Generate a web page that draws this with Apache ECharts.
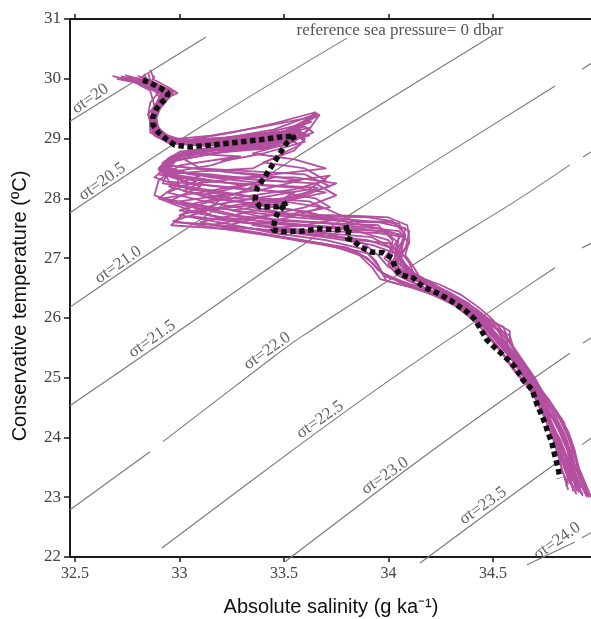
<!DOCTYPE html>
<html>
<head>
<meta charset="utf-8">
<script src="https://cdn.jsdelivr.net/npm/echarts@6/dist/echarts.min.js"></script>
<style>
  html, body { margin: 0; padding: 0; background: #ffffff; }
  #chart { width: 591px; height: 619px; }
</style>
</head>
<body>
<div id="chart"></div>
<script>
// Axis ticks
const salinityTicks = [32.5, 33, 33.5, 34, 34.5];

// Isopycnals (sigma-t), each a list of segments of [S, T] points
const sigma200 = [[[32.476, 29.29], [33.127, 30.70]]];
const sigma205 = [[[32.476, 27.76], [33.098, 29.19], [33.801, 30.68]]];
const sigma210 = [[[32.476, 26.18], [32.859, 27.09], [33.577, 28.73], [34.500, 30.73]]];
const sigma215 = [
  [[32.476, 24.53], [33.017, 25.83], [33.577, 27.19], [33.926, 27.97], [34.797, 29.88]],
  [[34.926, 30.16], [34.975, 30.27]]
];
const sigma220 = [
  [[32.476, 22.79], [32.859, 23.76]],
  [[32.921, 23.93], [33.443, 25.33], [33.577, 25.67], [34.232, 27.14], [34.615, 27.97], [34.868, 28.56]],
  [[34.931, 28.69], [34.975, 28.79]]
];
const sigma225 = [
  [[32.916, 22.15], [33.577, 23.88], [34.055, 25.08], [34.711, 26.64], [34.797, 26.84]],
  [[34.926, 27.17], [34.975, 27.26]]
];
const sigma230 = [
  [[33.505, 21.92], [34.151, 23.63], [34.548, 24.63], [34.868, 25.41]],
  [[34.931, 25.58], [34.975, 25.68]]
];
const sigma235 = [
  [[34.151, 21.90], [34.476, 22.74], [34.806, 23.58]],
  [[34.926, 23.88], [34.975, 24.00]]
];
const sigma240 = [
  [[34.663, 21.87], [34.892, 22.25]],
  [[34.926, 22.32], [34.975, 22.42]]
];

// Contour label anchors: [S, T, text]
const sigmaLabels = [
  [32.596, 29.55, 'σt=20'],
  [32.653, 28.16, 'σt=20.5'],
  [32.730, 26.77, 'σt=21.0'],
  [32.892, 25.53, 'σt=21.5'],
  [33.443, 25.33, 'σt=22.0'],
  [33.696, 24.18, 'σt=22.5'],
  [34.007, 23.24, 'σt=23.0'],
  [34.476, 22.74, 'σt=23.5'],
  [34.830, 22.15, 'σt=24.0']
];

// Individual T-S profiles: [absolute salinity, conservative temperature]
const profile01 = [[32.68,30.05],[32.78,29.95],[32.86,29.80],[32.88,29.55],[32.87,29.30],[32.90,29.05],[32.98,28.93],[33.20,29.00],[33.45,29.15],[33.66,29.42],[33.55,29.10],[33.30,28.85],[33.05,28.78],[32.92,28.60],[32.92,28.40],[33.10,28.20],[32.95,27.95],[33.20,27.75],[33.40,27.60],[33.60,27.55],[33.85,27.50],[34.05,27.40],[34.04,27.05],[34.10,26.75],[34.22,26.50],[34.38,26.15],[34.47,25.85],[34.58,25.40],[34.66,25.00],[34.72,24.60],[34.78,24.20],[34.83,23.80],[34.88,23.40],[34.96,23.00]];
const profile02 = [[32.75,30.00],[32.84,29.92],[32.90,29.78],[32.86,29.60],[32.85,29.40],[32.88,29.15],[32.95,28.98],[33.15,29.05],[33.40,29.20],[33.62,29.35],[33.50,29.05],[33.20,28.85],[32.98,28.70],[32.93,28.50],[33.15,28.35],[33.40,28.25],[33.25,28.05],[33.05,27.90],[33.30,27.70],[33.50,27.62],[33.75,27.58],[33.95,27.55],[34.02,27.30],[34.00,27.00],[34.06,26.80],[34.18,26.58],[34.30,26.30],[34.42,26.00],[34.50,25.70],[34.60,25.30],[34.67,24.90],[34.74,24.50],[34.79,24.10],[34.82,23.70],[34.86,23.30],[34.90,23.05]];
const profile03 = [[32.86,30.15],[32.88,29.98],[32.95,29.85],[32.99,29.76],[32.92,29.65],[32.87,29.45],[32.86,29.20],[32.92,29.02],[33.05,28.95],[33.30,28.98],[33.55,29.08],[33.60,28.95],[33.40,28.75],[33.20,28.62],[33.28,28.70],[33.00,28.55],[32.90,28.30],[32.88,28.05],[33.05,27.85],[32.98,27.60],[33.20,27.55],[33.45,27.45],[33.70,27.38],[33.90,27.30],[34.03,27.15],[34.08,26.90],[34.12,26.70],[34.24,26.45],[34.36,26.20],[34.45,25.95],[34.53,25.62],[34.62,25.20],[34.70,24.75],[34.76,24.35],[34.80,23.95],[34.84,23.55],[34.88,23.20]];
const profile04 = [[32.72,30.02],[32.82,29.90],[32.92,29.72],[32.90,29.50],[32.88,29.25],[32.93,29.05],[33.05,28.92],[33.30,28.95],[33.50,29.00],[33.58,28.90],[33.35,28.50],[33.10,28.45],[32.95,28.40],[33.05,28.25],[33.30,28.15],[33.55,28.10],[33.45,27.90],[33.25,27.80],[33.45,27.65],[33.65,27.60],[33.88,27.52],[34.05,27.45],[34.10,27.25],[34.05,27.05],[34.02,26.85],[34.12,26.65],[34.26,26.42],[34.40,26.10],[34.48,25.90],[34.56,25.50],[34.64,25.10],[34.72,24.65],[34.79,24.30],[34.85,23.90],[34.88,23.45],[34.92,23.10]];
const profile05 = [[32.80,30.05],[32.86,29.95],[32.94,29.80],[32.92,29.62],[32.89,29.35],[32.90,29.12],[33.00,28.95],[33.25,29.10],[33.45,29.25],[33.65,29.44],[33.58,29.20],[33.50,29.00],[33.25,28.80],[33.02,28.66],[33.10,28.50],[33.35,28.45],[33.60,28.40],[33.72,28.20],[33.50,28.00],[33.35,27.85],[33.60,27.70],[33.80,27.62],[33.95,27.60],[34.08,27.50],[34.06,27.20],[34.02,26.95],[34.08,26.75],[34.20,26.55],[34.32,26.30],[34.44,26.05],[34.52,25.80],[34.58,25.45],[34.65,25.05],[34.71,24.70],[34.77,24.30],[34.81,23.90],[34.85,23.50],[34.93,23.02]];
const profile06 = [[32.77,29.98],[32.87,29.88],[32.96,29.78],[32.93,29.60],[32.86,29.38],[32.86,29.10],[32.95,28.92],[33.12,28.88],[33.35,28.92],[33.52,28.98],[33.40,28.82],[33.15,28.80],[32.96,28.62],[32.90,28.40],[33.12,28.30],[33.02,28.12],[33.25,28.00],[33.50,27.95],[33.68,27.85],[33.55,27.70],[33.35,27.55],[33.55,27.45],[33.75,27.40],[33.92,27.35],[34.00,27.20],[34.05,27.00],[34.10,26.80],[34.20,26.58],[34.34,26.25],[34.43,26.00],[34.50,25.75],[34.60,25.35],[34.68,24.95],[34.75,24.55],[34.81,24.15],[34.86,23.75],[34.87,23.35],[34.88,23.15]];
const profile07 = [[32.83,30.08],[32.85,29.96],[32.90,29.84],[32.95,29.70],[32.90,29.50],[32.88,29.30],[32.92,29.08],[33.02,28.97],[33.22,29.02],[33.42,29.10],[33.63,29.28],[33.45,29.05],[33.25,28.90],[33.00,28.75],[32.95,28.55],[33.20,28.45],[33.45,28.35],[33.30,28.20],[33.10,28.05],[33.35,27.90],[33.60,27.78],[33.75,27.65],[33.60,27.55],[33.45,27.50],[33.70,27.45],[33.95,27.42],[34.08,27.35],[34.05,27.10],[34.06,26.88],[34.15,26.62],[34.28,26.38],[34.39,26.12],[34.47,25.88],[34.55,25.60],[34.63,25.20],[34.70,24.80],[34.76,24.40],[34.80,24.00],[34.84,23.60],[34.86,23.30]];
const profile08 = [[32.70,30.00],[32.80,29.93],[32.88,29.82],[32.91,29.65],[32.88,29.42],[32.89,29.20],[32.96,29.00],[33.10,28.95],[33.35,29.05],[33.55,29.15],[33.62,29.05],[33.40,28.85],[33.18,28.82],[33.00,28.70],[32.95,28.50],[32.92,28.25],[33.18,28.12],[33.40,28.00],[33.62,27.95],[33.75,27.75],[33.85,27.60],[34.00,27.62],[34.10,27.45],[34.08,27.15],[34.04,26.95],[34.10,26.72],[34.22,26.48],[34.35,26.22],[34.46,25.98],[34.55,25.85],[34.57,25.65],[34.62,25.35],[34.69,24.95],[34.75,24.50],[34.80,24.10],[34.85,23.70],[34.90,23.35],[34.95,23.00]];
const profile09 = [[32.82,29.95],[32.90,29.86],[32.97,29.78],[32.94,29.65],[32.88,29.48],[32.87,29.28],[32.90,29.10],[32.98,28.94],[33.20,28.92],[33.48,28.95],[33.56,29.02],[33.50,28.88],[33.30,28.80],[33.10,28.74],[33.29,28.70],[33.15,28.55],[32.98,28.45],[33.00,28.20],[33.22,28.05],[33.15,27.85],[33.05,27.70],[33.30,27.60],[33.55,27.55],[33.80,27.48],[33.98,27.45],[34.04,27.28],[34.03,27.05],[34.05,26.82],[34.16,26.60],[34.27,26.40],[34.37,26.15],[34.44,25.92],[34.52,25.68],[34.59,25.38],[34.66,25.02],[34.72,24.62],[34.77,24.22],[34.81,23.82],[34.83,23.45],[34.86,23.22]];
const profile10 = [[32.88,30.05],[32.86,29.92],[32.92,29.80],[32.89,29.60],[32.85,29.40],[32.87,29.15],[32.93,28.98],[33.08,28.93],[33.32,29.00],[33.50,29.05],[33.60,29.00],[33.55,28.80],[33.40,28.60],[33.60,28.50],[33.70,28.30],[33.55,28.15],[33.35,28.05],[33.15,27.95],[33.00,27.80],[33.20,27.68],[33.40,27.62],[33.62,27.55],[33.85,27.45],[34.00,27.30],[34.04,27.10],[34.08,26.90],[34.14,26.68],[34.25,26.46],[34.38,26.18],[34.45,25.98],[34.52,25.72],[34.61,25.32],[34.68,24.92],[34.74,24.52],[34.79,24.12],[34.84,23.72],[34.89,23.30],[34.91,23.08]];
const profile11 = [[32.74,30.06],[32.83,29.97],[32.93,29.82],[32.90,29.62],[32.87,29.42],[32.86,29.18],[32.92,29.00],[33.10,28.90],[33.40,28.98],[33.58,29.05],[33.45,28.92],[33.20,28.78],[32.97,28.62],[32.88,28.35],[33.05,28.15],[33.30,28.05],[33.50,27.90],[33.30,27.75],[33.10,27.60],[33.25,27.50],[33.50,27.35],[33.65,27.25],[33.85,27.10],[33.93,26.90],[33.98,26.70],[34.10,26.55],[34.20,26.40],[34.30,26.25],[34.40,26.05],[34.48,25.75],[34.56,25.45],[34.64,25.05],[34.69,24.75],[34.74,24.40],[34.80,24.05],[34.84,23.70],[34.87,23.35],[34.93,23.05]];
const profile12 = [[32.79,30.02],[32.87,29.90],[32.95,29.78],[32.91,29.58],[32.88,29.32],[32.89,29.10],[32.97,28.95],[33.20,28.97],[33.45,29.08],[33.60,29.20],[33.64,29.10],[33.45,28.88],[33.20,28.82],[32.98,28.68],[32.93,28.45],[33.15,28.40],[33.40,28.30],[33.65,28.25],[33.75,28.05],[33.60,27.85],[33.40,27.70],[33.20,27.52],[33.40,27.40],[33.62,27.28],[33.80,27.18],[33.90,27.00],[33.95,26.80],[34.05,26.60],[34.18,26.45],[34.30,26.30],[34.38,26.10],[34.46,25.85],[34.53,25.55],[34.61,25.22],[34.67,24.90],[34.73,24.55],[34.80,24.25],[34.85,23.95],[34.88,23.60],[34.90,23.30],[34.88,23.10]];
const profile13 = [[32.84,30.00],[32.89,29.90],[32.93,29.75],[32.88,29.55],[32.86,29.30],[32.88,29.05],[32.96,28.92],[33.15,28.92],[33.35,28.96],[33.48,29.00],[33.35,28.86],[33.10,28.80],[32.95,28.68],[32.90,28.50],[33.10,28.38],[32.95,28.20],[33.15,28.00],[33.35,27.92],[33.55,27.80],[33.70,27.70],[33.90,27.68],[34.02,27.62],[34.08,27.40],[34.06,27.10],[34.10,26.92],[34.12,26.75],[34.20,26.60],[34.32,26.35],[34.42,26.15],[34.50,25.92],[34.54,25.70],[34.60,25.40],[34.66,25.10],[34.73,24.70],[34.80,24.35],[34.85,24.00],[34.88,23.65],[34.91,23.35],[34.96,23.00]];
const profile14 = [[32.76,30.03],[32.85,29.94],[32.94,29.80],[32.92,29.58],[32.88,29.38],[32.87,29.12],[32.94,28.96],[33.05,28.90],[33.28,28.97],[33.52,29.10],[33.67,29.40],[33.62,29.15],[33.55,28.95],[33.35,28.75],[33.55,28.65],[33.70,28.50],[33.45,28.40],[33.20,28.30],[32.98,28.20],[32.90,28.00],[33.05,27.80],[33.25,27.62],[33.50,27.50],[33.70,27.42],[33.88,27.25],[33.95,27.05],[34.00,26.85],[34.08,26.68],[34.22,26.52],[34.34,26.30],[34.44,26.05],[34.53,25.78],[34.60,25.50],[34.66,25.18],[34.72,24.85],[34.78,24.55],[34.84,24.25],[34.87,23.90],[34.89,23.55],[34.93,23.20]];
const profile15 = [[32.81,30.00],[32.88,29.92],[32.96,29.80],[32.93,29.62],[32.88,29.45],[32.86,29.22],[32.90,29.02],[33.00,28.94],[33.18,28.90],[33.38,28.95],[33.55,29.00],[33.42,28.85],[33.22,28.84],[33.02,28.72],[32.94,28.55],[33.12,28.48],[33.38,28.40],[33.58,28.30],[33.40,28.15],[33.20,28.05],[33.00,27.95],[33.15,27.72],[33.35,27.58],[33.55,27.42],[33.75,27.32],[33.92,27.22],[34.02,27.10],[34.00,26.90],[34.04,26.72],[34.14,26.55],[34.26,26.35],[34.36,26.15],[34.43,25.95],[34.51,25.65],[34.58,25.35],[34.63,25.10],[34.68,24.80],[34.76,24.45],[34.82,24.15],[34.86,23.80],[34.89,23.45],[34.92,23.15]];
const profile16 = [[32.72,30.04],[32.80,29.98],[32.90,29.86],[32.93,29.70],[32.89,29.48],[32.88,29.24],[32.91,29.05],[33.00,28.96],[33.25,29.02],[33.50,29.12],[33.60,29.30],[33.52,29.10],[33.38,28.90],[33.15,28.84],[32.96,28.70],[32.92,28.48],[32.95,28.28],[33.20,28.20],[33.45,28.12],[33.65,28.00],[33.72,27.85],[33.55,27.75],[33.35,27.68],[33.15,27.55],[33.40,27.48],[33.65,27.40],[33.85,27.30],[34.00,27.25],[34.07,27.05],[34.03,26.85],[34.08,26.65],[34.18,26.50],[34.28,26.35],[34.38,26.12],[34.47,25.90],[34.56,25.75],[34.57,25.55],[34.63,25.28],[34.70,24.95],[34.76,24.60],[34.82,24.30],[34.86,24.00],[34.89,23.70],[34.91,23.40],[34.96,23.02]];
const profile17 = [[32.85,30.10],[32.86,29.97],[32.92,29.86],[32.97,29.77],[32.93,29.60],[32.87,29.35],[32.87,29.12],[32.93,28.98],[33.10,28.92],[33.35,28.98],[33.60,29.10],[33.50,28.95],[33.28,28.86],[33.05,28.76],[32.93,28.62],[32.92,28.42],[33.12,28.32],[33.30,28.22],[33.10,28.10],[32.92,28.00],[33.10,27.88],[33.30,27.78],[33.55,27.68],[33.78,27.62],[33.95,27.50],[34.06,27.38],[34.02,27.18],[33.98,27.00],[34.05,26.78],[34.14,26.62],[34.25,26.44],[34.35,26.25],[34.42,26.05],[34.48,25.82],[34.55,25.52],[34.62,25.20],[34.70,24.85],[34.76,24.50],[34.81,24.20],[34.85,23.85],[34.88,23.50],[34.90,23.20]];
const profile18 = [[32.78,30.00],[32.86,29.91],[32.95,29.79],[32.90,29.55],[32.86,29.32],[32.88,29.08],[32.97,28.96],[33.12,28.94],[33.30,29.02],[33.40,29.05],[33.30,28.90],[33.08,28.80],[32.96,28.66],[32.95,28.45],[33.20,28.35],[33.50,28.28],[33.72,28.38],[33.62,28.15],[33.40,28.02],[33.18,27.90],[33.00,27.72],[33.22,27.58],[33.45,27.42],[33.70,27.30],[33.88,27.15],[33.94,26.95],[33.97,26.75],[34.06,26.62],[34.16,26.50],[34.26,26.38],[34.36,26.20],[34.44,26.00],[34.52,25.82],[34.58,25.70],[34.60,25.48],[34.65,25.15],[34.72,24.80],[34.78,24.45],[34.83,24.10],[34.86,23.80],[34.87,23.50],[34.85,23.18]];
const profile19 = [[32.80,29.97],[32.88,29.86],[32.93,29.70],[32.87,29.48],[32.86,29.25],[32.91,29.03],[33.04,28.93],[33.30,28.94],[33.45,28.98],[33.30,28.83],[33.05,28.78],[32.93,28.58],[32.97,28.35],[33.25,28.25],[33.55,28.18],[33.70,28.10],[33.50,27.95],[33.25,27.85],[33.02,27.75],[32.96,27.55],[33.25,27.48],[33.55,27.32],[33.72,27.22],[33.86,27.05],[33.92,26.85],[33.96,26.65],[34.10,26.52],[34.22,26.38],[34.32,26.20],[34.40,25.98],[34.46,25.78],[34.53,25.50],[34.60,25.15],[34.67,24.85],[34.71,24.60],[34.75,24.30],[34.79,23.95],[34.82,23.60],[34.84,23.35],[34.86,23.12]];
const profile20 = [[32.73,30.02],[32.84,29.95],[32.91,29.80],[32.91,29.60],[32.88,29.36],[32.89,29.14],[32.95,28.97],[33.15,28.95],[33.42,29.02],[33.62,29.18],[33.58,29.02],[33.32,28.86],[33.10,28.82],[32.96,28.66],[32.90,28.48],[33.08,28.28],[32.94,28.10],[33.12,27.95],[33.32,27.82],[33.52,27.72],[33.72,27.72],[33.88,27.70],[34.00,27.68],[34.09,27.55],[34.10,27.30],[34.08,27.05],[34.12,26.85],[34.15,26.68],[34.25,26.55],[34.35,26.38],[34.43,26.18],[34.49,26.00],[34.54,25.80],[34.58,25.60],[34.64,25.30],[34.70,25.00],[34.74,24.75],[34.80,24.45],[34.86,24.10],[34.89,23.80],[34.91,23.50],[34.94,23.25],[34.97,23.00]];
const profile21 = [[32.79,29.99],[32.87,29.90],[32.94,29.76],[32.90,29.56],[32.87,29.34],[32.88,29.12],[32.96,28.95],[33.20,28.92],[33.38,28.92],[33.52,28.95],[33.38,28.84],[33.12,28.82],[32.98,28.72],[32.92,28.55],[33.05,28.40],[33.30,28.35],[33.55,28.35],[33.75,28.25],[33.60,28.05],[33.38,27.95],[33.15,27.82],[32.97,27.62],[33.18,27.50],[33.42,27.38],[33.62,27.26],[33.78,27.18],[33.90,27.08],[33.95,26.88],[33.99,26.62],[34.12,26.50],[34.24,26.36],[34.34,26.18],[34.41,25.98],[34.47,25.72],[34.54,25.42],[34.60,25.12],[34.66,24.88],[34.72,24.58],[34.77,24.28],[34.82,23.98],[34.86,23.62],[34.88,23.35],[34.90,23.10]];
const profile22 = [[32.82,30.04],[32.87,29.93],[32.95,29.82],[32.94,29.66],[32.89,29.44],[32.87,29.20],[32.92,29.02],[33.06,28.92],[33.26,28.98],[33.48,29.06],[33.58,29.12],[33.44,28.94],[33.20,28.86],[33.00,28.78],[32.93,28.62],[32.90,28.40],[33.15,28.28],[33.42,28.22],[33.66,28.18],[33.55,28.00],[33.30,27.90],[33.48,27.75],[33.70,27.68],[33.90,27.62],[34.05,27.58],[34.08,27.35],[34.04,27.15],[34.06,26.95],[34.10,26.78],[34.18,26.60],[34.28,26.45],[34.38,26.25],[34.46,26.02],[34.52,25.90],[34.58,25.78],[34.58,25.58],[34.64,25.25],[34.70,24.92],[34.77,24.62],[34.83,24.30],[34.87,23.95],[34.90,23.62],[34.92,23.35],[34.95,23.12]];

// Mean profile
const meanProfile = [[32.825,29.98],[32.859,29.93],[32.907,29.85],[32.945,29.76],[32.940,29.68],[32.916,29.61],[32.892,29.51],[32.873,29.36],[32.873,29.23],[32.897,29.11],[32.940,28.98],[32.978,28.89],[33.050,28.86],[33.146,28.89],[33.256,28.93],[33.385,28.98],[33.495,29.03],[33.553,29.04],[33.514,28.93],[33.467,28.68],[33.419,28.42],[33.371,28.17],[33.361,27.97],[33.385,27.86],[33.423,27.86],[33.471,27.86],[33.514,27.92],[33.471,27.77],[33.457,27.64],[33.447,27.47],[33.495,27.44],[33.577,27.45],[33.672,27.49],[33.754,27.47],[33.816,27.52],[33.801,27.33],[33.830,27.30],[33.864,27.19],[33.921,27.10],[33.974,27.09],[34.017,27.00],[34.031,26.85],[34.055,26.72],[34.117,26.67],[34.165,26.52],[34.232,26.42],[34.294,26.30],[34.376,26.10],[34.414,25.97],[34.438,25.83],[34.471,25.63],[34.510,25.50],[34.572,25.30],[34.605,25.18],[34.644,24.96],[34.687,24.80],[34.711,24.55],[34.749,24.24],[34.763,24.08],[34.782,23.91],[34.797,23.68],[34.811,23.49],[34.821,23.32]];

const profiles = [profile01, profile02, profile03, profile04, profile05, profile06, profile07, profile08, profile09,
  profile10, profile11, profile12, profile13, profile14, profile15, profile16, profile17, profile18,
  profile19, profile20, profile21, profile22];
const isopycnals = [sigma200, sigma205, sigma210, sigma215, sigma220, sigma225, sigma230, sigma235, sigma240];

const SERIF = '"Liberation Serif", "Times New Roman", "DejaVu Serif", serif';
const SANS = '"Liberation Sans", Arial, Helvetica, sans-serif';

const series = [];

// Gray isopycnal contours
isopycnals.forEach(function (segments) {
  segments.forEach(function (seg) {
    series.push({
      type: 'line',
      data: seg,
      showSymbol: false,
      smooth: 0.3,
      clip: false,
      silent: true,
      z: 1,
      lineStyle: { color: '#7a7a7a', width: 1.15 }
    });
  });
});

// Contour labels laid along the lines
series.push({
  type: 'scatter',
  data: sigmaLabels.map(function (d) { return { value: [d[0], d[1]], name: d[2] }; }),
  symbolSize: 0,
  silent: true,
  z: 2,
  label: {
    show: true,
    position: 'inside',
    formatter: '{b}',
    rotate: 35,
    align: 'center',
    verticalAlign: 'bottom',
    fontFamily: SERIF,
    fontSize: 17,
    color: '#3a3a3a'
  }
});

// Individual profiles
profiles.forEach(function (p) {
  series.push({
    type: 'line',
    data: p,
    showSymbol: false,
    silent: true,
    z: 3,
    lineStyle: { color: '#b44f9f', width: 1.8, join: 'round' }
  });
});

// Mean profile, heavy square dots
series.push({
  type: 'line',
  data: meanProfile,
  showSymbol: false,
  silent: true,
  z: 4,
  lineStyle: { color: '#111111', width: 5.5, type: [5.5, 3.5], cap: 'butt' }
});

const chart = echarts.init(document.getElementById('chart'), null, { renderer: 'canvas' });
chart.setOption({
  animation: false,
  backgroundColor: '#ffffff',
  grid: { left: 70, top: 19, right: 0, bottom: 62, containLabel: false },
  xAxis: [
    {
      type: 'value',
      position: 'bottom',
      min: 32.476,
      max: 34.969,
      splitLine: { show: false },
      axisLine: { show: true, onZero: false, lineStyle: { color: '#1a1a1a', width: 2 } },
      axisTick: { show: true, inside: false, length: 5, customValues: salinityTicks, lineStyle: { color: '#1a1a1a', width: 1.5 } },
      axisLabel: { show: true, customValues: salinityTicks, margin: 9, fontFamily: SERIF, fontSize: 16, color: '#444444' }
    },
    {
      type: 'value',
      position: 'top',
      min: 32.476,
      max: 34.969,
      splitLine: { show: false },
      axisLine: { show: true, onZero: false, lineStyle: { color: '#1a1a1a', width: 2 } },
      axisTick: { show: true, inside: false, length: 5, customValues: salinityTicks, lineStyle: { color: '#1a1a1a', width: 1.5 } },
      axisLabel: { show: false }
    }
  ],
  yAxis: {
    type: 'value',
    min: 22,
    max: 31,
    interval: 1,
    splitLine: { show: false },
    axisLine: { show: true, onZero: false, lineStyle: { color: '#1a1a1a', width: 2 } },
    axisTick: { show: true, inside: false, length: 6, lineStyle: { color: '#1a1a1a', width: 1.5 } },
    axisLabel: { show: true, margin: 9, fontFamily: SERIF, fontSize: 17, color: '#444444' }
  },
  graphic: [
    {
      type: 'text',
      x: 400, y: 31,
      style: { text: 'reference sea pressure= 0 dbar', font: '17px ' + SERIF, fill: '#555555', align: 'center', verticalAlign: 'middle' }
    },
    {
      type: 'text',
      x: 331, y: 607,
      style: { text: 'Absolute salinity (g ka⁻¹)', font: '20px ' + SANS, fill: '#111111', align: 'center', verticalAlign: 'middle' }
    },
    {
      type: 'text',
      x: 20, y: 306,
      rotation: Math.PI / 2,
      style: { text: 'Conservative temperature (ºC)', font: '20px ' + SANS, fill: '#111111', align: 'center', verticalAlign: 'middle' }
    }
  ],
  series: series
});
</script>
</body>
</html>
